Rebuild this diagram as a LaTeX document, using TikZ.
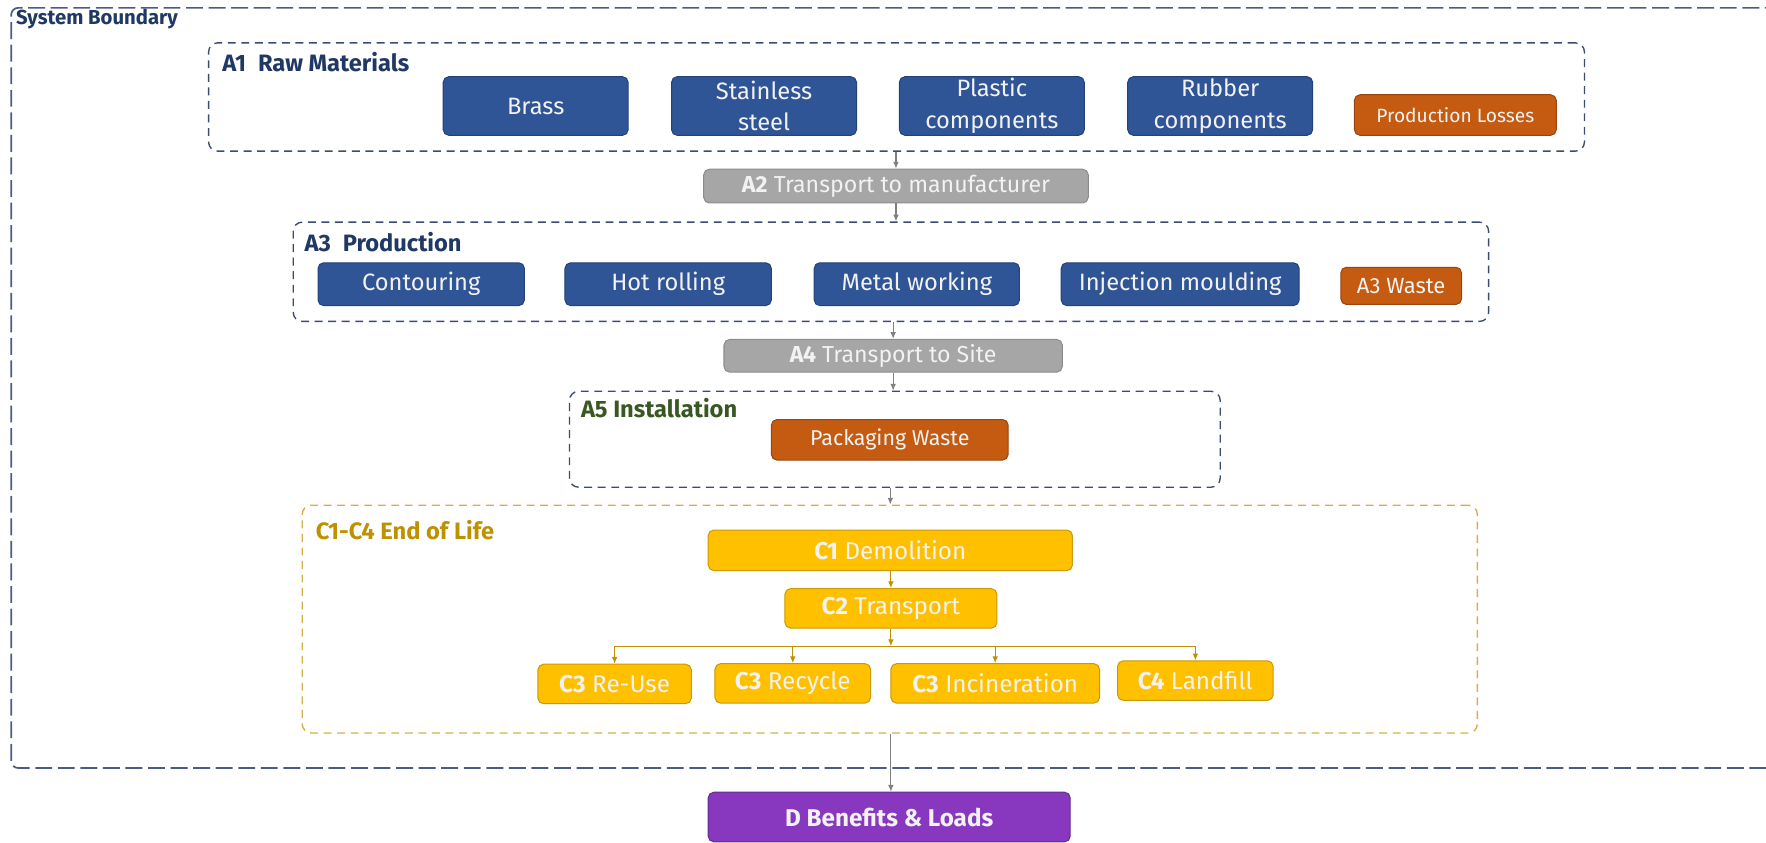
\documentclass[tikz,border=0pt]{standalone}
\usepackage{fontspec}
\setmainfont{Fira Sans}
\usetikzlibrary{positioning,arrows.meta,calc}

\definecolor{navy}{HTML}{1F3864}
\definecolor{grpline}{HTML}{3B4B73}
\definecolor{sbline}{HTML}{4A5C85}
\definecolor{boxtext}{HTML}{F2F2F2}
\definecolor{matblue}{HTML}{2F5597}
\definecolor{matline}{HTML}{22427A}
\definecolor{lossor}{HTML}{C55A11}
\definecolor{lossline}{HTML}{9A4510}
\definecolor{transgray}{HTML}{A6A6A6}
\definecolor{transline}{HTML}{8C8C8C}
\definecolor{eolyel}{HTML}{FFC000}
\definecolor{eolline}{HTML}{C89B00}
\definecolor{eolgold}{HTML}{BF9000}
\definecolor{eoldash}{HTML}{D4B04A}
\definecolor{benpur}{HTML}{8738BF}
\definecolor{benline}{HTML}{652A92}
\definecolor{instgreen}{HTML}{385723}
\definecolor{flowgray}{HTML}{808080}

\begin{document}
\begin{tikzpicture}[x=1pt,y=-1pt,
	box/.style={rectangle,rounded corners=5pt,draw,line width=0.9pt,text=boxtext,inner sep=0pt,align=center},
	mat/.style={box,fill=matblue,draw=matline,font=\fontsize{21}{28}\selectfont},
	loss/.style={box,fill=lossor,draw=lossline,font=\fontsize{17}{20}\selectfont},
	trans/.style={box,fill=transgray,draw=transline,font=\fontsize{20.5}{24}\selectfont},
	eol/.style={box,fill=eolyel,draw=eolline,font=\fontsize{21.5}{25}\selectfont},
	ben/.style={box,fill=benpur,draw=benline,font=\bfseries\fontsize{21.5}{25}\selectfont},
	grp/.style={rectangle,rounded corners=8pt,draw=grpline,line width=1.2pt,dash pattern=on 7pt off 5pt,inner sep=0pt},
	ttl/.style={anchor=west,inner sep=0pt,font=\bfseries\fontsize{21}{25}\selectfont},
	flow/.style={draw=flowgray,line width=1pt,-{Latex[length=6pt,width=5pt]}},
	eflow/.style={draw=eolgold,line width=1pt,-{Latex[length=6pt,width=5pt]}}]

\useasboundingbox (0,0) rectangle (1566,747);

% system boundary, open to the right
\draw[sbline,line width=1.5pt,dash pattern=on 15pt off 5pt,rounded corners=6pt] (1580,7) -- (10,7) -- (10,681) -- (1580,681);
\node[ttl,text=navy,font=\bfseries\fontsize{18}{21}\selectfont] (sbt) at (14,17) {System Boundary};

% stage frames
\node[grp,minimum width=1220pt,minimum height=96pt] at (795,86) (a1) {};
\node[grp,minimum width=1060pt,minimum height=88pt] at (790,241) (a3) {};
\node[grp,minimum width=577pt,minimum height=85pt] at (793.5,389.5) (a5) {};
\node[grp,draw=eoldash,minimum width=1042pt,minimum height=202pt] at (789,549) (eol) {};

\node[ttl,text=navy] at (197,55) (a1t) {A1\enspace Raw Materials};
\node[ttl,text=navy] at (270,215) (a3t) {A3\enspace Production};
\node[ttl,text=instgreen] at (515,362) (a5t) {A5 Installation};
\node[ttl,text=eolgold] at (280,470) (eolt) {C1-C4 End of Life};

% A1
\foreach \x/\n/\t in {475/brass/Brass,677.5/steel/{Stainless\\steel},879.5/plastic/{Plastic\\components},1082/rubber/{Rubber\\components}}
	\node[mat,minimum width=164pt,minimum height=52pt] at (\x,94) (\n) {\t};
\node[loss,minimum width=179pt,minimum height=36pt] at (1290.5,102) (loss) {Production Losses};

\node[trans,minimum width=341pt,minimum height=30pt] at (794.5,165) (a2) {{\bfseries A2} Transport to manufacturer};

% A3
\foreach \x/\n/\w/\t in {373.5/cont/183pt/Contouring,592.5/hot/183pt/Hot rolling,813/metal/182pt/Metal working,1046.5/inj/211pt/Injection moulding}
	\node[mat,minimum width=\w,minimum height=38pt] at (\x,252) (\n) {\t};
\node[loss,font=\fontsize{19.5}{22}\selectfont,minimum width=107pt,minimum height=33pt] at (1242.5,253.5) (waste) {A3 Waste};

\node[trans,minimum width=300pt,minimum height=29pt] at (792,315.5) (a4) {{\bfseries A4} Transport to Site};

% A5
\node[loss,font=\fontsize{19}{22}\selectfont,minimum width=210pt,minimum height=36pt] at (789,390) (pack) {Packaging Waste};

% C1-C4
\node[eol,minimum width=323pt,minimum height=36pt] at (789.5,488) (c1) {{\bfseries C1} Demolition};
\node[eol,minimum width=188pt,minimum height=35pt] at (790,539.5) (c2) {{\bfseries C2} Transport};
\foreach \x/\y/\n/\w/\t in {545/606.5/reuse/136pt/{{\bfseries C3} Re-Use},703/606/recycle/138pt/{{\bfseries C3} Recycle},882.5/606/incin/185pt/{{\bfseries C3} Incineration},1060/603.5/landfill/138pt/{{\bfseries C4} Landfill}}
	\node[eol,minimum width=\w,minimum height=35pt] at (\x,\y) (\n) {\t};

\node[ben,minimum width=321pt,minimum height=44pt] at (788.5,724.5) (d) {D Benefits \& Loads};

% flows
\draw[flow] (a2 |- a1.south) -- (a2.north);
\draw[flow] (a2.south) -- (a2 |- a3.north);
\draw[flow] (a4 |- a3.south) -- (a4.north);
\draw[flow] (a4.south) -- (a4 |- a5.north);
\draw[flow] (c1 |- a5.south) -- (c1 |- eol.north);
\draw[eflow] (c2 |- c1.south) -- (c2.north);
\coordinate (br) at (790,573);
\draw[eflow] (c2) -- (br);
\draw[eolgold,line width=1pt] (reuse |- br) -- (landfill |- br);
\foreach \n in {reuse,recycle,incin,landfill}
	\draw[eflow] (\n |- br) -- (\n);
\draw[flow] (br |- eol.south) -- (br |- d.north);
\end{tikzpicture}
\end{document}
